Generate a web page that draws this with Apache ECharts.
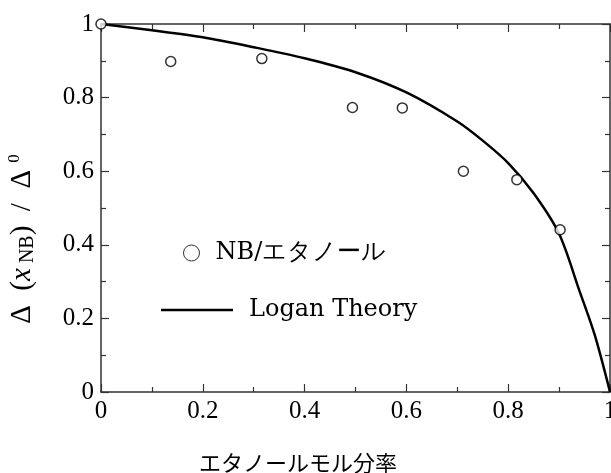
<!DOCTYPE html>
<html>
<head>
<meta charset="utf-8">
<script src="https://cdn.jsdelivr.net/npm/echarts@6/dist/echarts.min.js"></script>
<style>
  html, body { margin: 0; padding: 0; background: #fff; }
  #main { width: 611px; height: 473px; }
</style>
</head>
<body>
<div id="main"></div>
<script>
// measured points (NB / ethanol)
const expX = [0, 0.137, 0.316, 0.494, 0.592, 0.712, 0.817, 0.902]
const expY = [1, 0.898, 0.906, 0.773, 0.772, 0.600, 0.577, 0.441]

// Logan theory curve
const theoryX = [0, 0.1, 0.2, 0.3, 0.4, 0.5, 0.6, 0.7, 0.75, 0.8, 0.85, 0.9, 0.94, 0.97, 1]
const theoryY = [1, 0.983, 0.964, 0.937, 0.907, 0.869, 0.814, 0.735, 0.683, 0.622, 0.540, 0.430, 0.275, 0.155, 0]

const seriesNames = ['NB/エタノール', 'Logan Theory']

const serif = "Liberation Serif"
const legendFont = "DejaVu Serif"
const axisColor = '#333'

function pairs(xs, ys) {
  return xs.map(function (x, i) { return [x, ys[i]] })
}

function makeAxis(pos, labels) {
  return {
    type: 'value',
    position: pos,
    min: 0,
    max: 1,
    interval: 0.2,
    axisLine: { show: true, onZero: false, lineStyle: { color: axisColor, width: 1.5 } },
    axisTick: { show: true, inside: true, length: 8, lineStyle: { color: axisColor, width: 1.2 } },
    minorTick: { show: true, splitNumber: 2, length: 5, lineStyle: { color: axisColor, width: 1.2 } },
    splitLine: { show: false },
    axisLabel: {
      show: labels,
      margin: 7,
      formatter: '{t|{value}}',
      rich: { t: { fontFamily: serif, fontSize: 25, color: '#000' } }
    }
  }
}

const myChart = echarts.init(document.getElementById('main'))
myChart.setOption({
  animation: false,
  backgroundColor: '#fff',
  textStyle: { fontFamily: serif },
  grid: { left: 101, right: 1, top: 24, bottom: 81, containLabel: false, outerBoundsMode: 'none' },
  xAxis: [makeAxis('bottom', true), makeAxis('top', false)],
  yAxis: [makeAxis('left', true), makeAxis('right', false)],
  legend: [
    {
      data: [{ name: seriesNames[0], icon: 'circle' }],
      left: 178,
      top: 236,
      itemWidth: 38,
      itemHeight: 16,
      selectedMode: false,
      itemStyle: { color: '#fff', borderColor: '#000', borderWidth: 1 },
      textStyle: { fontFamily: legendFont, fontSize: 24, color: '#000' }
    },
    {
      data: [{ name: seriesNames[1], icon: 'rect' }],
      left: 156,
      top: 293,
      itemWidth: 72,
      itemHeight: 2.5,
      selectedMode: false,
      itemStyle: { color: '#000', borderWidth: 0 },
      textStyle: { fontFamily: legendFont, fontSize: 24, color: '#000', padding: [0, 0, 0, 11] }
    }
  ],
  graphic: [
    {
      type: 'text',
      x: 298,
      y: 463,
      style: {
        text: 'エタノールモル分率',
        font: "22px 'Noto Sans CJK JP'",
        fill: '#000',
        align: 'center',
        verticalAlign: 'middle'
      }
    },
    {
      type: 'text',
      x: 22,
      y: 239,
      rotation: Math.PI / 2,
      style: {
        text: '{a|Δ  (}{i|x}{s| NB}{a|)  /  Δ }{p|0}',
        fill: '#000',
        align: 'center',
        verticalAlign: 'middle',
        rich: {
          a: { fontFamily: serif, fontSize: 29, lineHeight: 32, verticalAlign: 'middle' },
          i: { fontFamily: serif, fontSize: 29, fontStyle: 'italic', lineHeight: 32, verticalAlign: 'middle' },
          s: { fontFamily: serif, fontSize: 20, lineHeight: 32, verticalAlign: 'bottom' },
          p: { fontFamily: serif, fontSize: 17, lineHeight: 32, verticalAlign: 'top' }
        }
      }
    }
  ],
  series: [
    {
      name: seriesNames[1],
      type: 'line',
      xAxisIndex: 0,
      yAxisIndex: 0,
      data: pairs(theoryX, theoryY),
      smooth: 0.3,
      symbol: 'none',
      lineStyle: { color: '#000', width: 2.5 },
      itemStyle: { color: '#000' },
      z: 2
    },
    {
      name: seriesNames[0],
      type: 'scatter',
      xAxisIndex: 0,
      yAxisIndex: 0,
      data: pairs(expX, expY),
      symbol: 'circle',
      symbolSize: 10,
      itemStyle: { color: '#fff', borderColor: '#000', borderWidth: 1.5 },
      z: 3
    },
    {
      // keeps the top / right frame axes alive
      type: 'line',
      xAxisIndex: 1,
      yAxisIndex: 1,
      data: [],
      silent: true
    }
  ]
})
</script>
</body>
</html>
